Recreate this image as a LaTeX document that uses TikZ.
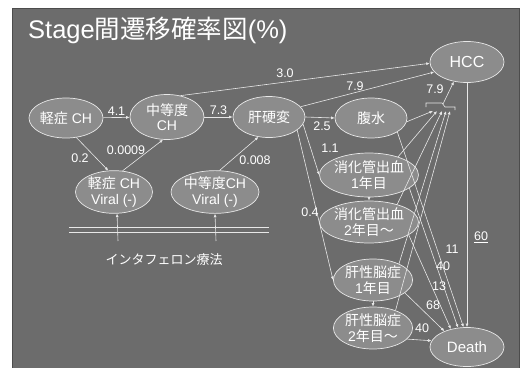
\documentclass[tikz,border=0pt]{standalone}
\usepackage{fontspec}
\setmainfont{Liberation Sans}
\newfontfamily\jp{Noto Sans CJK JP}
\usetikzlibrary{shapes.geometric,arrows.meta}
\definecolor{panel}{HTML}{6C6C6C}
\definecolor{nodefill}{HTML}{8C8C8C}
\definecolor{lineclr}{HTML}{E8E8E8}
\begin{document}
\begin{tikzpicture}[x=1pt,y=-1pt,
  st/.style={ellipse, draw=lineclr, fill=nodefill, line width=0.7pt, text=white,
    font=\fontsize{14}{15.5}\selectfont, inner sep=0pt, align=center},
  con/.style={draw=lineclr, line width=0.6pt, -{Latex[length=3.5pt,width=3pt]}},
  plain/.style={draw=lineclr, line width=0.6pt},
  lbl/.style={text=white, font=\fontsize{12.5}{14}\selectfont, inner sep=1pt}]
\useasboundingbox (0,0) rectangle (525,367);
\fill[white] (0,0) rectangle (525,367);
\draw[fill=panel, draw=black!70, line width=0.8pt] (12,8) rectangle (519,368);

% title
\node[anchor=west, text=white, font=\fontsize{25.5}{29}\selectfont, inner sep=0pt] (title) at (28,30) {Stage{\jp 間遷移確率図}(\%)};

% nodes
\node[st, minimum width=74pt, minimum height=40pt] (mch) at (66,118) {{\jp 軽症} CH};
\node[st, minimum width=74pt, minimum height=45pt] (ich) at (167,117) {{\jp 中等度}\\CH};
\node[st, minimum width=72pt, minimum height=41pt] (lc) at (269,117) {{\jp 肝硬変}};
\node[st, minimum width=77pt, minimum height=41pt] (mv) at (114,192) {{\jp 軽症} CH\\Viral (-)};
\node[st, minimum width=84pt, minimum height=41pt] (iv) at (215,192) {{\jp 中等度}CH\\Viral (-)};
\node[st, minimum width=72pt, minimum height=40pt] (asc) at (371,118) {{\jp 腹水}};
\node[st, minimum width=76pt, minimum height=44pt] (b1) at (369,175) {{\jp 消化管出血}\\1{\jp 年目}};
\node[st, minimum width=76pt, minimum height=42pt] (b2) at (369,222) {{\jp 消化管出血}\\2{\jp 年目〜}};
\node[st, minimum width=74pt, minimum height=42pt] (e1) at (373,280) {{\jp 肝性脳症}\\1{\jp 年目}};
\node[st, minimum width=74pt, minimum height=42pt] (e2) at (373,328) {{\jp 肝性脳症}\\2{\jp 年目〜}};
\node[st, minimum width=74pt, minimum height=41pt, font=\fontsize{16}{18}\selectfont] (hcc) at (467,62) {HCC};
\node[st, minimum width=74pt, minimum height=39pt, font=\fontsize{15}{17}\selectfont] (death) at (467,347) {Death};

% interferon
\node[text=white, font=\jp\fontsize{13}{15}\selectfont, inner sep=0pt] (ifn) at (164,260) {インタフェロン療法};
\coordinate (dl1a) at (69,227); \coordinate (dl1b) at (269,227);
\coordinate (dl2a) at (69,232); \coordinate (dl2b) at (269,232);
\draw[plain] (dl1a) -- (dl1b);
\draw[plain] (dl2a) -- (dl2b);
\coordinate (ia) at (118,241);
\coordinate (ib) at (216,241);
\draw[con] (ia) -- (mv.-82);
\draw[con] (ib) -- (iv.south);

% left edges
\draw[con] (mch) -- (ich) node[lbl, midway, above=1pt] (l41) {4.1};
\draw[con] (ich) -- (lc) node[lbl, midway, above=1pt] (l73) {7.3};
\draw[con] (mch.-62) -- (mv.105);
\node[lbl] (l02) at (80,158) {0.2};
\draw[con] (mv.68) -- (ich.-100);
\node[lbl] (l0009) at (126,150) {0.0009};
\draw[con] (iv.78) -- (lc.-118);
\node[lbl] (l008) at (255,160) {0.008};

% to HCC
\draw[con] (ich.58) -- (hcc.182);
\node[lbl] (l30) at (285,73) {3.0};
\draw[con] (lc.18) -- (hcc.197);
\node[lbl] (l79a) at (355,86) {7.9};

% cirrhosis outgoing
\draw[con] (lc.east) -- (asc.west);
\node[lbl] (l25) at (322,126) {2.5};
\draw[con] (lc.-12) -- (b1.west);
\node[lbl] (l11a) at (330,148) {1.1};
\draw[con] (lc.-25) -- (e1.west);
\node[lbl] (l04) at (310,212) {0.4};
\draw[con] (b1.south) -- (b2.north);
\draw[con] (e1.south) -- (e2.north);

% bracket
\coordinate (bk1) at (426,107);
\coordinate (bk2) at (426,103);
\coordinate (bk3) at (442,103);
\coordinate (bk4) at (445,107);
\coordinate (bk5) at (455,107);
\coordinate (bk6) at (455,110);
\draw[plain] (bk1) -- (bk2) -- (bk3) -- (bk4) -- (bk5) -- (bk6);
\coordinate (bkm) at (443,104);
\draw[con] (bkm) -- (hcc.236);
\node[lbl] (l79b) at (435,89) {7.9};
\coordinate (k1) at (433,111);
\coordinate (k2) at (437,111);
\coordinate (k3) at (442,111);
\coordinate (k4) at (446,111);
\coordinate (k5) at (450,111);
\draw[con] (asc.-6) -- (k1);
\draw[con] (b1.32) -- (k2);
\draw[con] (b2.32) -- (k3);
\draw[con] (e1.32) -- (k4);
\draw[con] (e2.38) -- (k5);

% to Death
\draw[con] (asc.-28) -- (death.100);
\draw[con] (b1.-18) -- (death.115);
\draw[con] (b2.-18) -- (death.132);
\draw[con] (e1.-22) -- (death.145);
\draw[con] (e2.-18) -- (death.170);
\node[lbl] (d11) at (452,249) {11};
\node[lbl] (d40a) at (443,266) {40};
\node[lbl] (d13) at (439,286) {13};
\node[lbl] (d68) at (433,305) {68};
\node[lbl] (d40b) at (422,328) {40};
\draw[con] (hcc.south) -- (death.north);
\node[lbl] (d60) at (481,237) {\underline{60}};
\end{tikzpicture}
\end{document}
